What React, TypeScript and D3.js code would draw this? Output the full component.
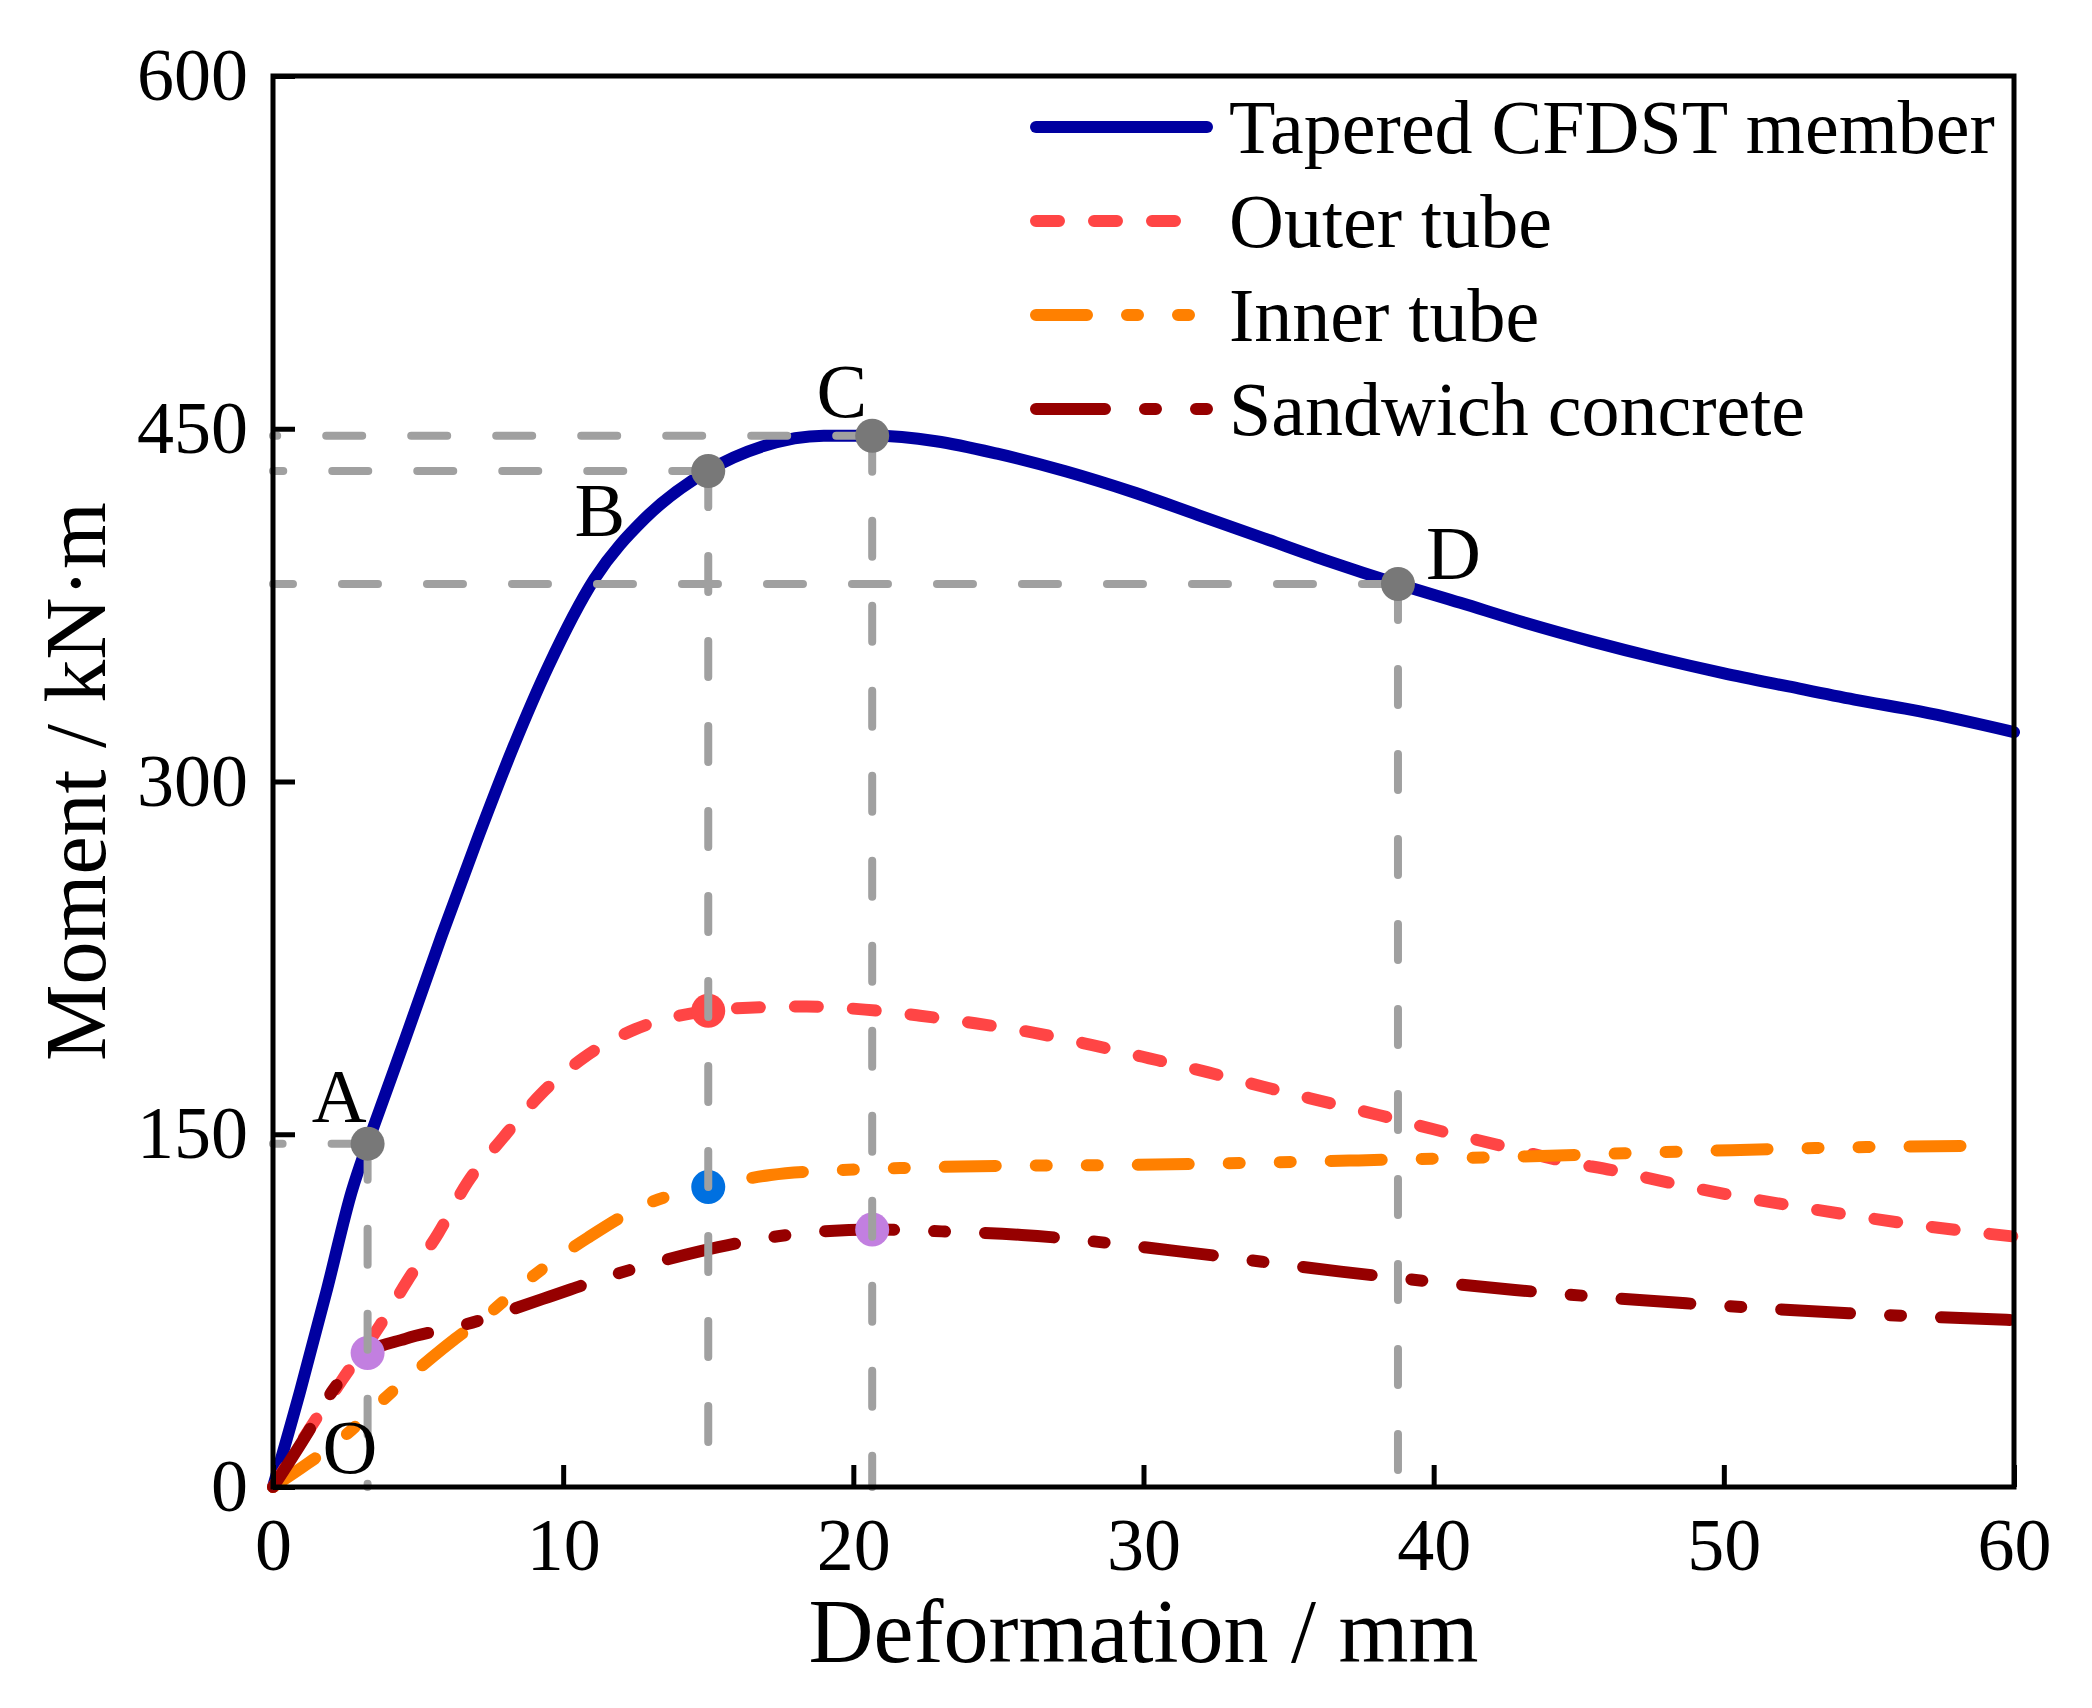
import * as d3 from "d3";
import { useEffect, useRef } from "react";

// values (deformation mm, moment kN·m)
const memberCurve: [number, number][] = [
  [0, 0], [0.94, 41], [1.86, 84], [2.72, 126], [3.26, 146], [3.87, 167], [4.57, 191], [5.8, 234],
  [7.03, 275], [8.26, 314], [9.49, 349], [11.07, 386], [12.83, 412], [14.97, 432], [16.87, 442.5],
  [18.98, 447], [20.7, 447], [22.85, 444.7], [24.96, 439.4], [27.34, 431.8], [29.6, 423.2],
  [31.86, 413.4], [34.13, 403.5], [36.39, 393.6], [38.77, 384], [40.92, 376], [43.18, 367.4],
  [45.44, 359.6], [47.7, 352.5], [49.97, 346.1], [52.23, 340.4], [54.5, 334.8], [56.76, 329.8], [60, 321],
];
const outerCurve: [number, number][] = [
  [0, 0], [1.46, 28.5], [2.38, 45.5], [3.7, 69], [4.62, 87.5], [5.7, 108], [6.7, 129.5], [7.92, 148.4],
  [9.23, 167], [10.7, 182.5], [12.47, 194.6], [15, 202.5], [16.4, 203.8], [18.4, 204.3], [20.4, 203],
  [22.3, 200.4], [24.2, 197.2], [26.2, 193.2], [28.2, 188], [30.2, 182.3], [32.2, 176.4], [34.1, 170.3],
  [36.1, 164.2], [38.1, 158.2], [40, 152.1], [42.2, 145.5], [44.3, 139], [46.4, 134.1], [48.3, 128.9],
  [50.3, 124], [52.3, 119.7], [54.3, 115.7], [56.2, 112.2], [58.2, 109], [60, 106.5],
];
const innerCurve: [number, number][] = [
  [0, 0], [1.2, 10], [2.5, 22], [3.7, 36], [5.47, 55], [6.28, 63], [7.47, 74], [8.85, 88.6],
  [10.85, 106], [13, 121], [15, 127.6], [17.15, 132.7], [19.6, 134.8], [21.3, 135.5], [23.7, 136.3],
  [30.4, 137.1], [37.1, 138.8], [42.9, 140.5], [49.5, 143], [56.2, 144.8], [59, 145],
];
const concreteCurve: [number, number][] = [
  [0, 0], [1.23, 23.8], [2.03, 40.5], [3.26, 57], [4.56, 63], [6.6, 69], [9.3, 80], [11.9, 90.8],
  [14.7, 100.2], [17.4, 106.6], [20.65, 109.5], [23.05, 108.7], [25.8, 107.2], [31.3, 100.1],
  [36.8, 91.6], [42.8, 83.8], [48.7, 78.1], [54.3, 73.9], [60, 71],
];

const seriesNames = ["Tapered CFDST member", "Outer tube", "Inner tube", "Sandwich concrete"];

// characteristic points O-A-B-C-D on the member curve
const keyLabels = ["A", "B", "C", "D"];
const keyX = [3.26, 15.0, 20.65, 38.77];
const keyY = [146, 432, 447, 384];

// component markers
const outerMarks: [number, number][] = [[15.0, 202.5]];
const innerMarks: [number, number][] = [[15.0, 127.6]];
const concreteMarks: [number, number][] = [[3.26, 57], [20.65, 109.5]];

const xTicks = [0, 10, 20, 30, 40, 50, 60];
const yTicks = [0, 150, 300, 450, 600];

const W = 2092;
const H = 1708;
const FONT = "'Liberation Serif', 'Times New Roman', serif";

export default function App() {
  const ref = useRef<SVGSVGElement>(null);

  useEffect(() => {
    document.body.style.margin = "0";
    if (!ref.current) return;
    const svg = d3.select(ref.current);
    svg.selectAll("*").remove();

    const left = 273, right = 2014, top = 76, bottom = 1487;
    const x = d3.scaleLinear().domain([0, 60]).range([left, right]);
    const y = d3.scaleLinear().domain([0, 600]).range([bottom, top]);

    svg.append("rect").attr("width", W).attr("height", H).attr("fill", "#fff");

    const line = d3
      .line<[number, number]>()
      .x(d => x(d[0]))
      .y(d => y(d[1]))
      .curve(d3.curveMonotoneX);

    const styles = [
      { data: memberCurve, color: "#0000a0", dash: null },
      { data: outerCurve, color: "#ff4545", dash: "23 35" },
      { data: innerCurve, color: "#ff8000", dash: "51 40 11 40 11 40" },
      { data: concreteCurve, color: "#960000", dash: "69 40 11 40" },
    ];

    const curves = svg.append("g");
    styles.forEach(s => {
      curves
        .append("path")
        .attr("d", line(s.data) as string)
        .attr("fill", "none")
        .attr("stroke", s.color)
        .attr("stroke-width", 12)
        .attr("stroke-linecap", "round")
        .attr("stroke-linejoin", "round")
        .attr("stroke-dasharray", s.dash);
    });

    // coloured markers
    const marks = svg.append("g");
    const markSets = [
      { data: outerMarks, color: "#ff4545" },
      { data: innerMarks, color: "#0070e0" },
      { data: concreteMarks, color: "#c27fe0" },
    ];
    markSets.forEach(m => {
      marks
        .selectAll(null)
        .data(m.data)
        .join("circle")
        .attr("cx", d => x(d[0]))
        .attr("cy", d => y(d[1]))
        .attr("r", 17)
        .attr("fill", m.color);
    });

    // grey guide lines from each key point to the axes
    const guides = svg.append("g").attr("stroke", "#a0a0a0").attr("stroke-width", 8)
      .attr("stroke-linecap", "round").attr("stroke-dasharray", "36 49").attr("fill", "none");
    keyX.forEach((kx, i) => {
      const ky = keyY[i];
      guides.append("line").attr("x1", x(kx)).attr("y1", y(ky)).attr("x2", x(0)).attr("y2", y(ky));
      guides.append("line").attr("x1", x(kx)).attr("y1", y(ky)).attr("x2", x(kx)).attr("y2", y(0));
    });

    // key points
    svg
      .append("g")
      .selectAll("circle")
      .data(keyX)
      .join("circle")
      .attr("cx", d => x(d))
      .attr("cy", (_, i) => y(keyY[i]))
      .attr("r", 17)
      .attr("fill", "#787878");

    // point labels
    const labelOffsets = [
      { dx: -1, dy: -22, anchor: "end" },
      { dx: -83, dy: 65, anchor: "end" },
      { dx: -5, dy: -19, anchor: "end" },
      { dx: 28, dy: -5, anchor: "start" },
    ];
    const labels = svg.append("g").attr("font-family", FONT).attr("font-size", 76).attr("fill", "#000");
    keyLabels.forEach((t, i) => {
      labels
        .append("text")
        .attr("x", x(keyX[i]) + labelOffsets[i].dx)
        .attr("y", y(keyY[i]) + labelOffsets[i].dy)
        .attr("text-anchor", labelOffsets[i].anchor)
        .text(t);
    });
    labels.append("text").attr("x", x(0) + 77).attr("y", y(0) - 14).attr("text-anchor", "middle").text("O");

    // axes
    const xAxis = svg
      .append("g")
      .attr("transform", `translate(0,${bottom})`)
      .call(d3.axisBottom(x).tickValues(xTicks).tickSize(-22).tickPadding(30).tickFormat(d3.format("d")));
    const yAxis = svg
      .append("g")
      .attr("transform", `translate(${left},0)`)
      .call(d3.axisLeft(y).tickValues(yTicks).tickSize(-22).tickPadding(25).tickFormat(d3.format("d")));
    [xAxis, yAxis].forEach(a => {
      a.select(".domain").remove();
      a.selectAll("line").attr("stroke", "#000").attr("stroke-width", 5);
      a.selectAll("text").attr("fill", "#000");
      a.attr("font-family", FONT).attr("font-size", 74);
    });

    svg
      .append("rect")
      .attr("x", left)
      .attr("y", top)
      .attr("width", right - left)
      .attr("height", bottom - top)
      .attr("fill", "none")
      .attr("stroke", "#000")
      .attr("stroke-width", 5);

    // axis titles
    svg
      .append("text")
      .attr("x", (left + right) / 2)
      .attr("y", 1662)
      .attr("text-anchor", "middle")
      .attr("font-family", FONT)
      .attr("font-size", 90)
      .text("Deformation / mm");
    svg
      .append("text")
      .attr("transform", `translate(105,${(top + bottom) / 2}) rotate(-90)`)
      .attr("text-anchor", "middle")
      .attr("font-family", FONT)
      .attr("font-size", 86)
      .text("Moment / kN·m");

    // legend
    const legend = svg.append("g").attr("font-family", FONT).attr("font-size", 76);
    seriesNames.forEach((name, i) => {
      const ly = 127 + i * 94;
      legend
        .append("line")
        .attr("x1", 1036)
        .attr("x2", 1207)
        .attr("y1", ly)
        .attr("y2", ly)
        .attr("stroke", styles[i].color)
        .attr("stroke-width", 12)
        .attr("stroke-linecap", "round")
        .attr("stroke-dasharray", styles[i].dash);
      legend.append("text").attr("x", 1229).attr("y", ly + 26).text(name);
    });
  }, []);

  return <svg ref={ref} width={W} height={H} style={{ display: "block" }} />;
}
